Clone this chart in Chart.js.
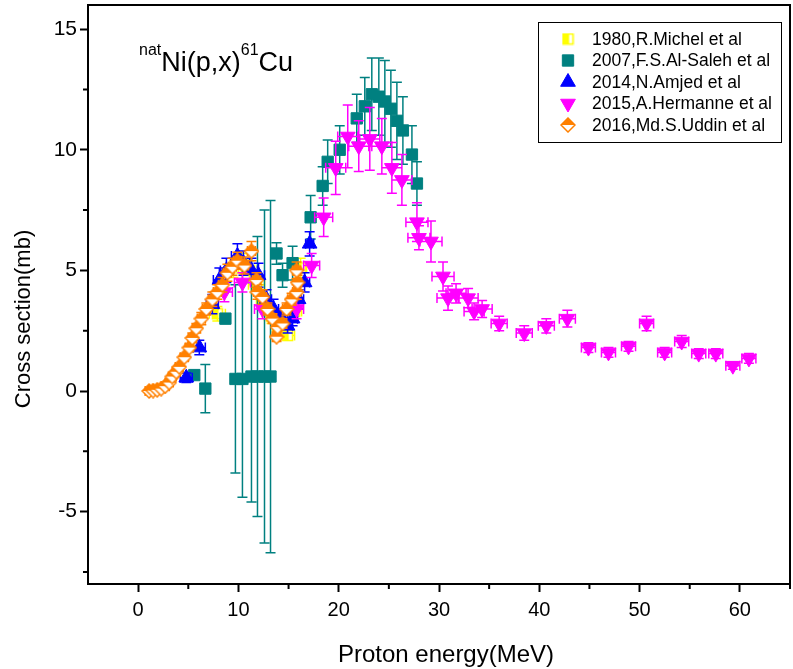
<!DOCTYPE html>
<html lang="en">
<head>
<meta charset="UTF-8">
<title>natNi(p,x)61Cu cross section</title>
<script src="https://cdn.jsdelivr.net/npm/chart.js"></script>
<style>
  body { margin: 0; background: #fff; }
</style>
</head>
<body>
<canvas id="grafico" width="793" height="669"></canvas>
<script>
// 1980, R.Michel et al
const michelE   = [7.9, 9.5, 10.4, 11.1, 11.8, 12.5, 13.3, 14.1, 14.9, 15.6, 16.2];
const michelS   = [3.2, 5.1, 5.3, 5.0, 4.4, 3.7, 3.1, 2.6, 2.3, 3.3, 5.1];
const michelDE  = [0.8, 0.8, 0.8, 0.8, 0.8, 0.7, 0.7, 0.7, 0.7, 0.7, 0.6];
const michelDS  = [0.3, 0.4, 0.4, 0.4, 0.35, 0.3, 0.3, 0.25, 0.2, 0.3, 0.4];

// 2007, F.S.Al-Saleh et al
const salehE  = [5.6, 6.7, 8.7, 9.7, 10.4, 11.3, 11.9, 12.6, 13.2, 13.8, 14.4, 15.4, 17.2, 18.4, 18.9, 20.1, 21.8, 22.6, 23.3, 24.0, 24.6, 25.2, 25.8, 26.4, 27.3, 27.8];
const salehS  = [0.66, 0.1, 3.0, 0.5, 0.5, 0.6, 0.6, 0.6, 0.6, 5.7, 4.8, 5.3, 7.2, 8.5, 9.5, 10.0, 11.3, 11.8, 12.3, 12.2, 12.0, 11.7, 11.2, 10.8, 9.8, 8.6];
const salehDS = [0.1, 1.0, 0.2, 3.9, 4.9, 5.2, 5.8, 6.9, 7.3, 0.45, 0.5, 0.7, 0.9, 0.8, 0.9, 1.0, 1.0, 1.2, 1.5, 1.6, 1.7, 1.6, 1.6, 1.4, 1.2, 0.9];

// 2014, N.Amjed et al
const amjedE  = [4.8, 6.1, 7.4, 8.1, 8.8, 9.9, 10.5, 11.3, 12.0, 12.8, 13.5, 14.2, 14.9, 15.4, 16.0, 16.6, 17.1];
const amjedS  = [0.55, 1.8, 3.6, 4.6, 5.0, 5.6, 5.3, 5.0, 4.8, 3.8, 3.4, 3.1, 2.7, 3.0, 3.8, 4.5, 6.1];
const amjedDE = [0.6, 0.6, 0.6, 0.6, 0.6, 0.6, 0.6, 0.6, 0.6, 0.5, 0.5, 0.5, 0.5, 0.5, 0.5, 0.5, 0.4];
const amjedDS = [0.2, 0.3, 0.4, 0.5, 0.5, 0.5, 0.5, 0.5, 0.5, 0.4, 0.4, 0.3, 0.3, 0.3, 0.4, 0.4, 0.5];

// 2015, A.Hermanne et al
const hermE  = [8.6, 10.4, 12.4, 15.8, 17.3, 18.5, 19.7, 20.9, 22.0, 23.1, 24.3, 25.3, 26.3, 27.8, 28.0, 29.2, 30.4, 30.9, 31.7, 32.9, 33.5, 34.3, 36.0, 38.5, 40.7, 42.8, 44.9, 46.9, 48.9, 50.7, 52.5, 54.2, 55.9, 57.6, 59.3, 60.9];
const hermS  = [4.1, 4.5, 3.4, 3.4, 5.2, 7.2, 9.25, 10.55, 10.15, 10.45, 10.15, 9.25, 8.75, 7.0, 6.35, 6.2, 4.75, 3.85, 4.05, 3.85, 3.3, 3.4, 2.8, 2.4, 2.7, 3.0, 1.8, 1.6, 1.85, 2.8, 1.6, 2.05, 1.55, 1.55, 1.05, 1.35];
const hermDE = [0.8, 0.8, 0.8, 0.7, 0.8, 0.9, 1.0, 1.0, 1.0, 1.0, 1.0, 1.0, 1.0, 1.1, 1.1, 1.1, 1.1, 1.1, 1.0, 1.0, 1.0, 1.0, 0.8, 0.8, 0.8, 0.8, 0.7, 0.7, 0.7, 0.7, 0.7, 0.7, 0.7, 0.7, 0.7, 0.7];
const hermDS = [0.4, 0.4, 0.4, 0.4, 0.5, 0.8, 1.1, 1.3, 1.05, 1.3, 1.15, 1.05, 1.05, 0.8, 0.5, 0.85, 0.6, 0.5, 0.4, 0.4, 0.35, 0.35, 0.3, 0.3, 0.3, 0.35, 0.2, 0.2, 0.2, 0.3, 0.2, 0.25, 0.2, 0.2, 0.15, 0.2];

// 2016, Md.S.Uddin et al
const uddinE  = [1.1, 1.5, 1.9, 2.3, 2.7, 3.1, 3.4, 3.8, 4.1, 4.6, 5.1, 5.4, 5.8, 6.3, 6.8, 7.4, 7.9, 8.4, 8.9, 9.4, 9.9, 10.6, 11.3, 11.8, 11.9, 12.4, 12.9, 13.4, 13.8, 13.9, 14.4, 14.8, 15.3, 15.8, 15.9, 15.8];
const uddinS  = [0.0, 0.02, 0.05, 0.1, 0.2, 0.35, 0.6, 0.8, 1.0, 1.4, 1.8, 2.2, 2.6, 3.0, 3.4, 3.8, 4.1, 4.4, 4.9, 5.15, 5.4, 5.2, 5.8, 4.6, 4.1, 3.9, 3.4, 3.0, 2.25, 2.65, 2.8, 3.4, 3.8, 4.1, 4.5, 5.0];
const uddinDE = [0.4, 0.4, 0.4, 0.4, 0.4, 0.4, 0.4, 0.4, 0.4, 0.4, 0.4, 0.4, 0.4, 0.4, 0.4, 0.4, 0.4, 0.4, 0.4, 0.4, 0.4, 0.4, 0.4, 0.4, 0.4, 0.4, 0.4, 0.4, 0.4, 0.4, 0.4, 0.4, 0.4, 0.4, 0.4, 0.4];
const uddinDS = [0.05, 0.05, 0.05, 0.05, 0.05, 0.05, 0.1, 0.1, 0.1, 0.15, 0.15, 0.2, 0.2, 0.25, 0.25, 0.3, 0.3, 0.3, 0.35, 0.35, 0.35, 0.35, 0.4, 0.3, 0.3, 0.3, 0.25, 0.2, 0.2, 0.2, 0.2, 0.25, 0.25, 0.3, 0.3, 0.35];

const xMajor = [0, 10, 20, 30, 40, 50, 60];
const xMinor = [5, 15, 25, 35, 45, 55, 65];
const yMajor = [-5, 0, 5, 10, 15];
const yMinor = [-7.5, -2.5, 2.5, 7.5, 12.5];

const FONT = "'Liberation Sans', Arial, sans-serif";

// half filled markers (Origin style)
function halfSquare(color, side) {
  const c = document.createElement('canvas');
  c.width = c.height = side + 2;
  const g = c.getContext('2d');
  g.fillStyle = '#fff';
  g.fillRect(1, 1, side, side);
  g.fillStyle = color;
  g.fillRect(1, 1, side * 0.6, side);
  g.strokeStyle = color;
  g.lineWidth = 1.5;
  g.strokeRect(1.5, 1.5, side - 1, side - 1);
  return c;
}
function halfDiamond(color, w) {
  const c = document.createElement('canvas');
  c.width = c.height = w + 2;
  const g = c.getContext('2d');
  const m = (w + 2) / 2, r = w / 2;
  const path = () => { g.beginPath(); g.moveTo(m, m - r); g.lineTo(m + r, m); g.lineTo(m, m + r); g.lineTo(m - r, m); g.closePath(); };
  path(); g.fillStyle = '#fff'; g.fill();
  g.save(); g.beginPath(); g.rect(0, 0, w + 2, m); g.clip();
  path(); g.fillStyle = color; g.fill(); g.restore();
  path(); g.strokeStyle = color; g.lineWidth = 1.5; g.stroke();
  return c;
}

function pts(xs, ys) { return xs.map((x, i) => ({ x: x, y: ys[i] })); }

const datasets = [
  { label: '1980,R.Michel et al', data: pts(michelE, michelS), xErr: michelDE, yErr: michelDS,
    color: '#ffff00', pointStyle: halfSquare('#ffff00', 11), pointRadius: 7, order: 5 },
  { label: '2007,F.S.Al-Saleh et al', data: pts(salehE, salehS), xErr: null, yErr: salehDS,
    color: '#008080', pointStyle: 'rect', pointRadius: 8, order: 4 },
  { label: '2014,N.Amjed et al', data: pts(amjedE, amjedS), xErr: amjedDE, yErr: amjedDS,
    color: '#0000ff', pointStyle: 'triangle', pointRadius: 8.5, order: 3 },
  { label: '2015,A.Hermanne et al', data: pts(hermE, hermS), xErr: hermDE, yErr: hermDS,
    color: '#ff00ff', pointStyle: 'triangle', rotation: 180, pointRadius: 8.5, order: 2 },
  { label: '2016,Md.S.Uddin et al', data: pts(uddinE, uddinS), xErr: uddinDE, yErr: uddinDS,
    color: '#ff8000', pointStyle: halfDiamond('#ff8000', 14), pointRadius: 7, order: 1 }
].map(d => Object.assign(d, {
  showLine: false,
  backgroundColor: d.color,
  borderColor: d.color,
  pointBackgroundColor: d.color,
  pointBorderColor: d.color,
  pointBorderWidth: 1,
  pointRotation: d.rotation || 0,
  pointHoverRadius: d.pointRadius
}));

// error bars drawn under each dataset's markers
const errorBars = {
  id: 'errorBars',
  beforeDatasetDraw(chart, args) {
    const ds = chart.data.datasets[args.index];
    const xs = chart.scales.x, ys = chart.scales.y;
    const g = chart.ctx;
    const cap = 5;
    g.save();
    g.strokeStyle = ds.color;
    g.lineWidth = 1.5;
    g.beginPath();
    ds.data.forEach((p, i) => {
      const px = xs.getPixelForValue(p.x), py = ys.getPixelForValue(p.y);
      if (ds.yErr && ds.yErr[i]) {
        const t = ys.getPixelForValue(p.y + ds.yErr[i]), b = ys.getPixelForValue(p.y - ds.yErr[i]);
        g.moveTo(px, t); g.lineTo(px, b);
        g.moveTo(px - cap, t); g.lineTo(px + cap, t);
        g.moveTo(px - cap, b); g.lineTo(px + cap, b);
      }
      if (ds.xErr && ds.xErr[i]) {
        const l = xs.getPixelForValue(p.x - ds.xErr[i]), r = xs.getPixelForValue(p.x + ds.xErr[i]);
        g.moveTo(l, py); g.lineTo(r, py);
        g.moveTo(l, py - cap); g.lineTo(l, py + cap);
        g.moveTo(r, py - cap); g.lineTo(r, py + cap);
      }
    });
    g.stroke();
    g.restore();
  }
};

// frame, minor ticks, axis titles, reaction label and legend box
const decorations = {
  id: 'decorations',
  afterDraw(chart) {
    const g = chart.ctx, a = chart.chartArea;
    const xs = chart.scales.x, ys = chart.scales.y;
    g.save();
    g.strokeStyle = '#000';
    g.lineWidth = 2;
    g.strokeRect(a.left, a.top, a.right - a.left, a.bottom - a.top);
    g.beginPath();
    xMinor.forEach(v => { const p = xs.getPixelForValue(v); g.moveTo(p, a.bottom); g.lineTo(p, a.bottom + 5); });
    yMinor.forEach(v => { const p = ys.getPixelForValue(v); g.moveTo(a.left, p); g.lineTo(a.left - 5, p); });
    g.stroke();

    g.fillStyle = '#000';
    g.font = '24px ' + FONT;
    g.textAlign = 'center';
    g.textBaseline = 'alphabetic';
    g.fillText('Proton energy(MeV)', 446, 662);
    g.save();
    g.translate(30, 319);
    g.rotate(-Math.PI / 2);
    g.font = '22px ' + FONT;
    g.fillText('Cross section(mb)', 0, 0);
    g.restore();

    // reaction label
    g.textAlign = 'left';
    let x = 139;
    const parts = [['nat', 16, 55], ['Ni(p,x)', 27, 71], ['61', 16, 55], ['Cu', 27, 71]];
    parts.forEach(([t, s, y]) => { g.font = s + 'px ' + FONT; g.fillText(t, x, y); x += g.measureText(t).width; });

    // legend
    const L = 538, T = 22, R = 781, B = 142;
    g.fillStyle = '#fff';
    g.fillRect(L, T, R - L, B - T);
    g.lineWidth = 1;
    g.strokeStyle = '#000';
    g.strokeRect(L + 0.5, T + 0.5, R - L, B - T);
    g.font = '17.5px ' + FONT;
    g.textBaseline = 'middle';
    chart.data.datasets.forEach((ds, i) => {
      const cy = 39 + i * 21.5;
      g.fillStyle = ds.color;
      g.strokeStyle = ds.color;
      g.lineWidth = 1;
      Chart.helpers.drawPoint(g, { pointStyle: ds.pointStyle, rotation: ds.rotation || 0, radius: ds.pointRadius, borderWidth: 1 }, 568, cy);
      g.fillStyle = '#000';
      g.fillText(ds.label, 592, cy + 1);
    });
    g.restore();
  }
};

function fixBox(size, key) {
  return s => {
    s[key] = size;
    s.paddingTop = s.paddingBottom = s.paddingLeft = s.paddingRight = 0;
  };
}

new Chart(document.getElementById('grafico').getContext('2d'), {
  type: 'scatter',
  data: { datasets: datasets },
  options: {
    responsive: false,
    animation: false,
    events: [],
    layout: { autoPadding: false, padding: { top: 5, right: 3, left: 0, bottom: 0 } },
    plugins: { legend: { display: false }, tooltip: { enabled: false } },
    scales: {
      x: {
        type: 'linear', min: -5, max: 65,
        afterBuildTicks: s => { s.ticks = xMajor.map(v => ({ value: v })); },
        afterFit: fixBox(85, 'height'),
        ticks: { color: '#000', font: { family: FONT, size: 20 }, padding: 6, maxRotation: 0, autoSkip: false },
        grid: { drawOnChartArea: false, drawTicks: true, tickLength: 8, tickWidth: 2, tickColor: '#000' },
        border: { display: true, color: '#000', width: 2 }
      },
      y: {
        type: 'linear', min: -8, max: 16,
        afterBuildTicks: s => { s.ticks = yMajor.map(v => ({ value: v })); },
        afterFit: fixBox(88, 'width'),
        ticks: { color: '#000', font: { family: FONT, size: 21 }, padding: 3, autoSkip: false },
        grid: { drawOnChartArea: false, drawTicks: true, tickLength: 8, tickWidth: 2, tickColor: '#000' },
        border: { display: true, color: '#000', width: 2 }
      }
    }
  },
  plugins: [errorBars, decorations]
});
</script>
</body>
</html>
